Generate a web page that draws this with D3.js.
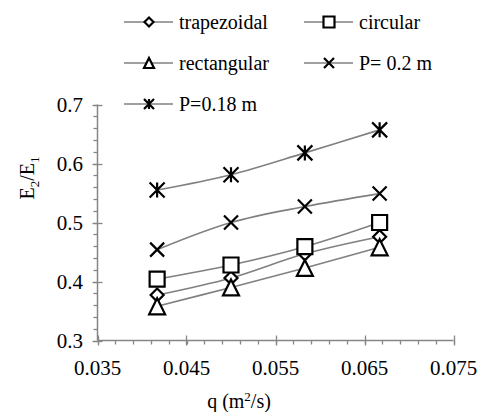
<meta charset="utf-8">
<head>
<script src="https://d3js.org/d3.v7.min.js"></script>
</head>
<body style="margin:0;background:#fff">
<div id="container"></div>
<script>

// data
var q = [0.0417, 0.0500, 0.0583, 0.0667];
var trapezoidal = [0.377, 0.406, 0.447, 0.476];
var circular    = [0.404, 0.428, 0.459, 0.500];
var rectangular = [0.358, 0.390, 0.423, 0.458];
var p020        = [0.454, 0.500, 0.527, 0.549];
var p018        = [0.555, 0.581, 0.618, 0.657];

var seriesNames = ["trapezoidal", "circular", "rectangular", "P= 0.2 m", "P=0.18 m"];
var seriesMarks = ["diamond", "square", "triangle", "x", "asterisk"];
var seriesVals  = [trapezoidal, circular, rectangular, p020, p018];

var xTicks = [0.035, 0.045, 0.055, 0.065, 0.075];
var yTicks = [0.3, 0.4, 0.5, 0.6, 0.7];

var font = "'Liberation Serif'";
var width = 478, height = 412;
var svg = d3.select('#container').append('svg')
  .attr('width', width).attr('height', height);

var x = d3.scaleLinear().domain([0.035, 0.075]).range([97.5, 453.5]);
var y = d3.scaleLinear().domain([0.3, 0.7]).range([340.5, 104.5]);

var axisCol = "#868686";

// minor ticks
var xMinor = d3.range(0.035, 0.0751, 0.002);
svg.selectAll('.xminor').data(xMinor).enter().append('line')
  .attr('x1', d => Math.round(x(d)) + 0.5).attr('x2', d => Math.round(x(d)) + 0.5)
  .attr('y1', y(0.3)).attr('y2', y(0.3) + 4)
  .attr('stroke', axisCol).attr('stroke-width', 1.3);
var yMinor = d3.range(0.3, 0.7001, 0.02);
svg.selectAll('.yminor').data(yMinor).enter().append('line')
  .attr('x1', x(0.035) - 4).attr('x2', x(0.035))
  .attr('y1', d => Math.round(y(d)) + 0.5).attr('y2', d => Math.round(y(d)) + 0.5)
  .attr('stroke', axisCol).attr('stroke-width', 1.3);

// major ticks cross the axes
svg.selectAll('.xmajor').data(xTicks).enter().append('line')
  .attr('x1', d => Math.round(x(d)) + 0.5).attr('x2', d => Math.round(x(d)) + 0.5)
  .attr('y1', y(0.3) - 5).attr('y2', y(0.3) + 5)
  .attr('stroke', axisCol).attr('stroke-width', 1.3);
svg.selectAll('.ymajor').data(yTicks).enter().append('line')
  .attr('x1', x(0.035) - 5).attr('x2', x(0.035) + 5)
  .attr('y1', d => Math.round(y(d)) + 0.5).attr('y2', d => Math.round(y(d)) + 0.5)
  .attr('stroke', axisCol).attr('stroke-width', 1.3);

// axis lines
svg.append('line').attr('x1', x(0.035)).attr('x2', x(0.075))
  .attr('y1', y(0.3)).attr('y2', y(0.3)).attr('stroke', axisCol).attr('stroke-width', 1.5);
svg.append('line').attr('x1', x(0.035)).attr('x2', x(0.035))
  .attr('y1', y(0.3)).attr('y2', y(0.7)).attr('stroke', axisCol).attr('stroke-width', 1.5);

// tick labels
svg.selectAll('.xlab').data(xTicks).enter().append('text')
  .attr('x', d => x(d)).attr('y', 375)
  .attr('text-anchor', 'middle').style('font-family', font).style('font-size', '21px')
  .text(d => d3.format('.3f')(d));
svg.selectAll('.ylab').data(yTicks).enter().append('text')
  .attr('x', 83).attr('y', d => y(d) + 7)
  .attr('text-anchor', 'end').style('font-family', font).style('font-size', '21px')
  .text(d => d3.format('.1f')(d));

// axis titles
var xt = svg.append('text').attr('x', 239).attr('y', 408)
  .attr('text-anchor', 'middle').style('font-family', font).style('font-size', '20px');
xt.append('tspan').text('q (m');
xt.append('tspan').attr('dy', -7).style('font-size', '13px').text('2');
xt.append('tspan').attr('dy', 7).text('/s)');

var yt = svg.append('text').attr('transform', 'translate(34,178) rotate(-90)')
  .attr('text-anchor', 'middle').style('font-family', font).style('font-size', '20px');
yt.append('tspan').text('E');
yt.append('tspan').attr('dy', 5).style('font-size', '13px').text('2');
yt.append('tspan').attr('dy', -5).text('/E');
yt.append('tspan').attr('dy', 5).style('font-size', '13px').text('1');

// markers
function markPath(type, s) {
  var h = s / 2;
  if (type === "square") return "M" + (-h) + "," + (-h) + "H" + h + "V" + h + "H" + (-h) + "Z";
  if (type === "diamond") return "M0," + (-h) + "L" + h + ",0L0," + h + "L" + (-h) + ",0Z";
  if (type === "triangle") return "M0," + (-h) + "L" + h + "," + h + "H" + (-h) + "Z";
  if (type === "x") return "M" + (-h) + "," + (-h) + "L" + h + "," + h + "M" + h + "," + (-h) + "L" + (-h) + "," + h;
  // asterisk
  return "M" + (-h) + "," + (-h) + "L" + h + "," + h + "M" + h + "," + (-h) + "L" + (-h) + "," + h +
         "M0," + (-h) + "V" + h;
}
var markSize = { square: 15, diamond: 13, triangle: 16, x: 14, asterisk: 15 };
var legSize  = { square: 11, diamond: 9, triangle: 10, x: 10, asterisk: 10 };

var line = d3.line().x(d => x(d[0])).y(d => y(d[1])).curve(d3.curveCatmullRom);

seriesVals.forEach(function(vals, i) {
  var pts = q.map((d, j) => [d, vals[j]]);
  svg.append('path').datum(pts).attr('d', line)
    .attr('fill', 'none').attr('stroke', '#808080').attr('stroke-width', 1.6);
});
seriesVals.forEach(function(vals, i) {
  var m = seriesMarks[i];
  svg.selectAll('.m' + i).data(q.map((d, j) => [d, vals[j]])).enter().append('path')
    .attr('transform', d => 'translate(' + x(d[0]) + ',' + y(d[1]) + ')')
    .attr('d', markPath(m, markSize[m]))
    .attr('fill', (m === 'x' || m === 'asterisk') ? 'none' : '#fff')
    .attr('stroke', '#000').attr('stroke-width', 2.2);
});

// legend
var legPos = [[124, 22], [304, 22], [124, 63], [304, 63], [124, 104]];
seriesNames.forEach(function(name, i) {
  var g = svg.append('g').attr('transform', 'translate(' + legPos[i][0] + ',' + legPos[i][1] + ')');
  g.append('line').attr('x1', 0).attr('x2', 49).attr('y1', 0).attr('y2', 0)
    .attr('stroke', '#808080').attr('stroke-width', 1.6);
  var m = seriesMarks[i];
  g.append('path').attr('transform', 'translate(25,0)').attr('d', markPath(m, legSize[m]))
    .attr('fill', (m === 'x' || m === 'asterisk') ? 'none' : '#fff')
    .attr('stroke', '#000').attr('stroke-width', 2.2);
  g.append('text').attr('x', 55).attr('y', 7).style('font-family', font).style('font-size', '20px').text(name);
});

</script>
</body>
